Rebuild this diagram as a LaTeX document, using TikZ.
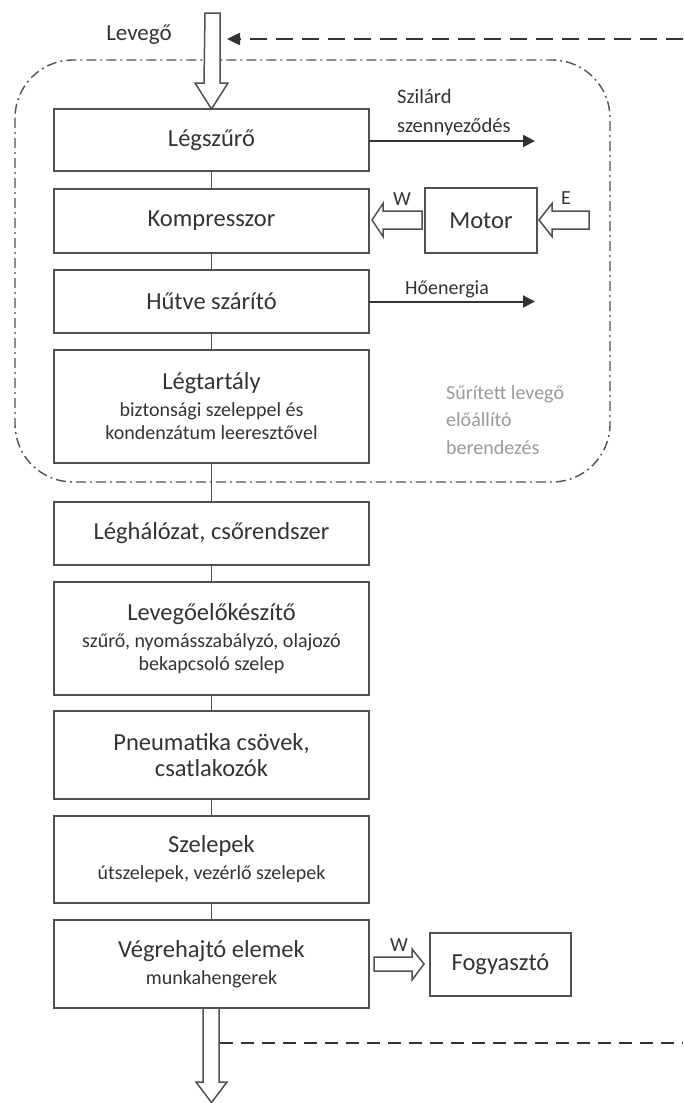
\documentclass[tikz,border=0pt]{standalone}
\usepackage{fontspec}
\setmainfont{Carlito}
\usetikzlibrary{arrows.meta,calc}
\definecolor{ink}{HTML}{333333}
\definecolor{frame}{HTML}{505050}
\definecolor{soft}{HTML}{9A9A9A}
\newcommand\ttl{\fontsize{24.5}{28}\selectfont}
\newcommand\sbt{\fontsize{20}{23}\selectfont}
\begin{document}
\begin{tikzpicture}[x=1pt,y=-1pt,
  stage/.style={draw=frame,line width=1.5pt,minimum width=315pt,inner sep=0pt,outer sep=0pt,align=center,text=ink,font=\sbt},
  sidebox/.style={draw=frame,line width=1.5pt,inner sep=0pt,outer sep=0pt,align=center,text=ink,font=\ttl},
  link/.style={draw=frame,line width=1.5pt},
  lbl/.style={text=ink,font=\sbt,inner sep=0pt},
  hollow/.style={draw=frame,line width=1.5pt,fill=white,line join=miter},
  outflow/.style={draw=ink,line width=2pt,-{Triangle[length=12pt,width=12pt]}},
  feedback/.style={draw=ink,line width=2.4pt},
]
\useasboundingbox (0,0) rectangle (683,1103);

% system boundary
\draw[frame,line width=1.4pt,dash pattern=on 10pt off 4pt on 2pt off 4pt,rounded corners=58pt]
  (15,60) rectangle (610,482);

% main chain
\node[stage,minimum height=62pt]  (b1) at (211.5,140)   {\ttl Légszűrő};
\node[stage,minimum height=64pt]  (b2) at (211.5,221)   {\ttl Kompresszor};
\node[stage,minimum height=63pt]  (b3) at (211.5,301.5) {\ttl Hűtve szárító};
\node[stage,minimum height=113pt] (b4) at (211.5,406.5) {{\ttl Légtartály}\\[4pt] biztonsági szeleppel és\\ kondenzátum leeresztővel};
\node[stage,minimum height=63pt]  (b5) at (211.5,533.5) {\ttl Léghálózat, csőrendszer};
\node[stage,minimum height=113pt] (b6) at (211.5,638.5) {{\ttl Levegőelőkészítő}\\[4pt] szűrő, nyomásszabályzó, olajozó\\ bekapcsoló szelep};
\node[stage,minimum height=88pt]  (b7) at (211.5,755)   {\ttl Pneumatika csövek,\\[3pt]\ttl csatlakozók};
\node[stage,minimum height=87pt]  (b8) at (211.5,859.5) {{\ttl Szelepek}\\[4pt] útszelepek, vezérlő szelepek};
\node[stage,minimum height=88pt]  (b9) at (211.5,964)   {{\ttl Végrehajtó elemek}\\[4pt] munkahengerek};

\node[sidebox,minimum width=112pt,minimum height=65pt] (motor) at (481,220.5) {Motor};
\node[sidebox,minimum width=141pt,minimum height=63pt] (fogy) at (500.5,964.5) {Fogyasztó};

\foreach \a/\b in {b1/b2,b2/b3,b3/b4,b4/b5,b5/b6,b6/b7,b7/b8,b8/b9}
  \draw[link] (\a.south) -- (\b.north);

% inflow and outflow of air
\draw[hollow] (205,13) -- (220,13) -- (220,83) -- (228,83) -- (b1.north) -- (195,83) -- (204,83) -- cycle;
\draw[hollow] (203,1008) -- (219,1008) -- (219,1082) -- (227,1082) -- (211.5,1102.5) -- (196,1082) -- (203,1082) -- cycle;
\node[lbl,font=\fontsize{23}{26}\selectfont] (levego) at (139,35) {Levegő};

% feedback
\coordinate (fbtop) at (683,39);
\coordinate (fbtip) at (227,39);
\coordinate (fbbot) at (683,1043);
\coordinate (fbstart) at (220,1043);
\draw[feedback,dash pattern=on 17pt off 9pt,-{Triangle[length=13pt,width=12pt]}] (fbtop) -- (fbtip);
\draw[feedback,dash pattern=on 13pt off 8pt] (fbstart) -- (fbbot);

% side outputs
\coordinate (szend) at (535,141);
\coordinate (hoend) at (535,301.5);
\draw[outflow] (b1.east |- szend) -- (szend);
\draw[outflow] (b3.east) -- (hoend);
\node[lbl,align=left,anchor=west,font=\fontsize{20.5}{29}\selectfont] (szil) at (397,113) {Szilárd\\szennyeződés};
\node[lbl,font=\fontsize{20}{24}\selectfont] (hoen) at (447,289) {Hőenergia};

% energy arrows
\draw[hollow] (422,211) -- (383,211) -- (383,203.5) -- (372,220) -- (383,236.5) -- (383,229) -- (422,229) -- cycle;
\node[lbl,font=\fontsize{20}{24}\selectfont] (wtop) at (402,199) {W};
\draw[hollow] (589,211) -- (552,211) -- (552,203.5) -- (539,220) -- (552,236.5) -- (552,229) -- (589,229) -- cycle;
\node[lbl,font=\fontsize{20}{24}\selectfont] (etop) at (566,198) {E};
\draw[hollow] (374,957) -- (412,957) -- (412,949) -- (424,964) -- (412,980) -- (412,971) -- (374,971) -- cycle;
\node[lbl,font=\fontsize{20}{24}\selectfont] (wbot) at (399,945) {W};

% boundary caption
\node[anchor=west,align=left,text=soft,inner sep=0pt,font=\fontsize{20}{27.5}\selectfont] (cap) at (446,420) {Sűrített levegő\\előállító\\berendezés};
\end{tikzpicture}
\end{document}
